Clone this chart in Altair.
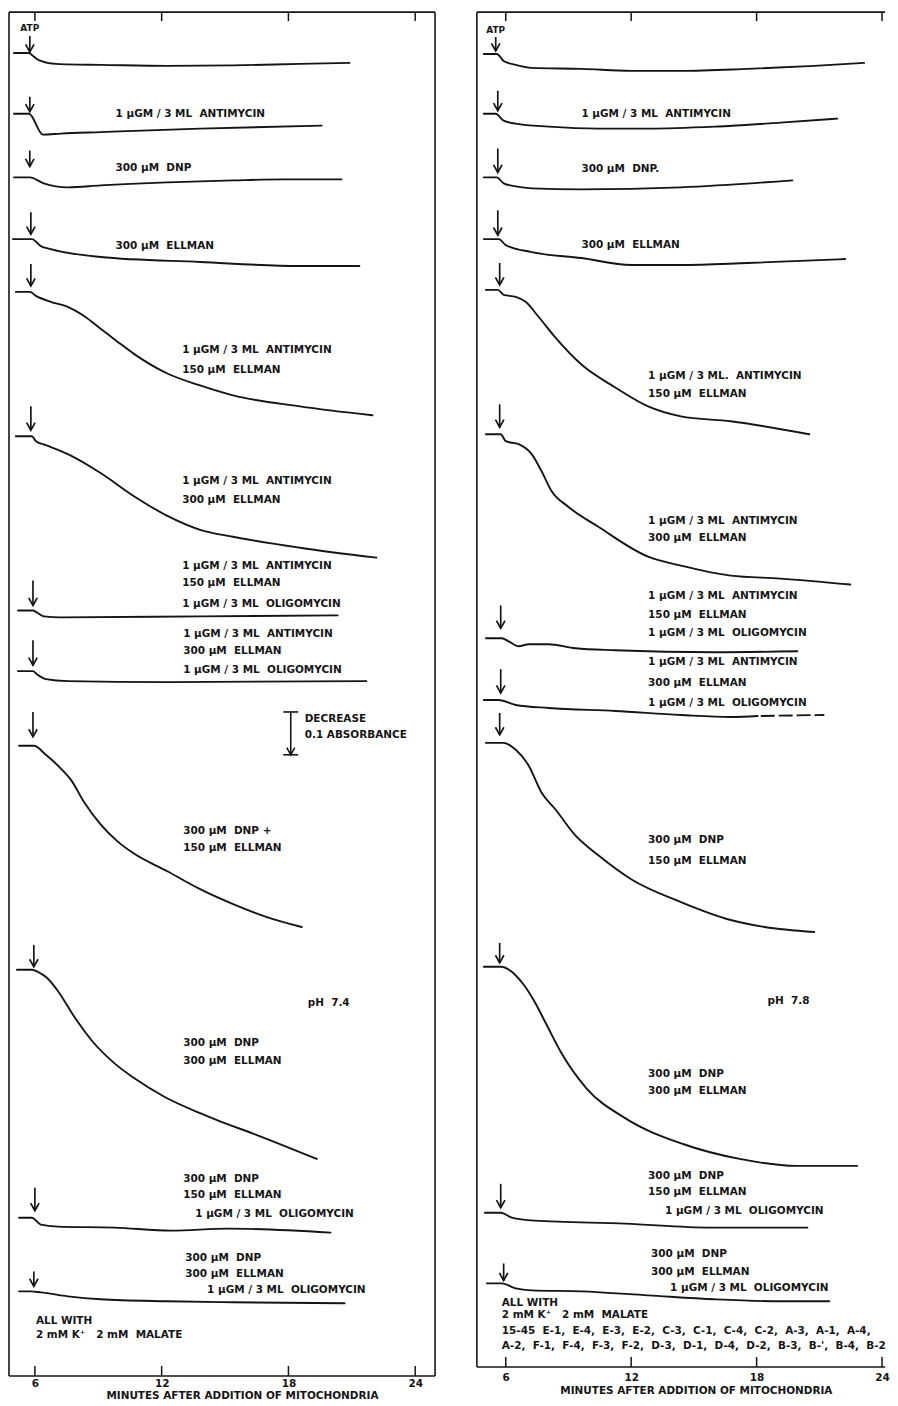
import altair as alt
import pandas as pd

FONT = "DejaVu Sans"
INK = "#151515"

TICKS = [6, 12, 18, 24]
X_TITLE = "MINUTES AFTER ADDITION OF MITOCHONDRIA"

# ---------------- Left panel (pH 7.4): minutes vs recorder deflection (downward) ----
L_XDOM = [4.775, 24.94]
L_YDOM = [7, 1377]

L1_min = [5.01, 5.72, 5.86, 6.09, 6.42, 6.99, 7.56, 9.11, 12.27, 15.38, 18.54, 20.89]
L1_val = [48, 48, 50, 54, 57, 59, 59.5, 60, 61, 60.5, 59, 58]
L2_min = [5.01, 5.72, 6.38, 7.23, 9.11, 13.82, 19.57]
L2_val = [109, 109, 130, 129, 127.5, 124, 121]
L3_min = [5.01, 5.76, 6.42, 7.56, 9.11, 12.27, 15.38, 17.73, 20.51]
L3_val = [173, 173, 179, 183, 181, 178, 176, 175, 175]
L4_min = [4.96, 5.86, 6.28, 6.75, 9.11, 13.82, 18.54, 21.36]
L4_val = [235, 235, 242, 245, 253, 258, 262, 262]
L5_min = [5.10, 5.76, 6.05, 6.75, 7.56, 8.31, 9.11, 9.91, 10.67, 12.27, 13.82, 15.38, 18.54, 21.98]
L5_val = [288, 288, 292, 298, 303, 312, 325, 338, 350, 370, 382, 392, 403, 412]
L6_min = [5.10, 5.86, 6.05, 6.52, 7.56, 9.11, 10.67, 12.27, 13.82, 15.38, 18.54, 22.16]
L6_val = [433, 433, 438, 442, 451, 470, 493, 513, 527, 534, 545, 555]
L7_min = [5.20, 5.91, 6.09, 6.42, 7.23, 13.82, 20.33]
L7_val = [608, 608, 610, 614, 615, 614, 613]
L8_min = [5.20, 5.91, 6.09, 6.52, 7.56, 12.27, 21.69]
L8_val = [669, 669, 672, 677, 679, 680, 679]
L9_min = [5.25, 5.95, 6.52, 7.37, 7.70, 8.31, 9.11, 9.91, 10.67, 12.27, 13.82, 15.38, 16.98, 18.63]
L9_val = [744, 744, 753, 770, 778, 800, 823, 840, 852, 870, 888, 903, 916, 926]
L10_min = [5.15, 5.86, 6.14, 6.57, 7.08, 7.89, 8.69, 9.77, 10.71, 12.17, 13.82, 14.62, 16.51, 19.34]
L10_val = [969, 969, 971, 977, 990, 1017, 1040, 1063, 1078, 1097, 1113, 1120, 1135, 1159]
L11_min = [5.25, 5.86, 6.28, 7.08, 9.77, 12.46, 15.14, 19.99]
L11_val = [1218, 1218, 1225, 1227, 1228, 1231, 1229, 1233]
L12_min = [5.25, 5.81, 6.28, 7.56, 9.11, 12.27, 15.38, 20.66]
L12_val = [1292, 1292, 1293, 1297, 1300, 1302, 1303, 1304]

L_ARROW_MIN = [5.76, 5.76, 5.76, 5.81, 5.81, 5.81, 5.91, 5.91, 5.91, 5.95, 6.00, 5.95]
L_ARROW_TOP = [31, 92, 146, 208, 260, 403, 578, 638, 710, 944, 1188, 1272]
L_ARROW_TIP = [47, 107, 162, 230, 282, 427, 603, 663, 735, 966, 1211, 1287]

L_SCALEBAR_MIN = [18.11]
L_SCALEBAR_TOP = [710]
L_SCALEBAR_BOTTOM = [753]

L_TEXT = ["1 μGM / 3 ML  ANTIMYCIN", "300 μM  DNP", "300 μM  ELLMAN",
          "1 μGM / 3 ML  ANTIMYCIN", "150 μM  ELLMAN",
          "1 μGM / 3 ML  ANTIMYCIN", "300 μM  ELLMAN",
          "1 μGM / 3 ML  ANTIMYCIN", "150 μM  ELLMAN", "1 μGM / 3 ML  OLIGOMYCIN",
          "1 μGM / 3 ML  ANTIMYCIN", "300 μM  ELLMAN", "1 μGM / 3 ML  OLIGOMYCIN",
          "DECREASE", "0.1 ABSORBANCE",
          "300 μM  DNP +", "150 μM  ELLMAN",
          "300 μM  DNP", "300 μM  ELLMAN",
          "300 μM  DNP", "150 μM  ELLMAN", "1 μGM / 3 ML  OLIGOMYCIN",
          "300 μM  DNP", "300 μM  ELLMAN", "1 μGM / 3 ML  OLIGOMYCIN",
          "ALL WITH", "2 mM K⁺   2 mM  MALATE", "pH  7.4"]
L_TEXT_MIN = [9.82, 9.82, 9.82, 12.97, 12.97, 12.97, 12.97, 12.97, 12.97, 12.97,
              13.02, 13.02, 13.02, 18.77, 18.77, 13.02, 13.02, 13.02, 13.02,
              13.02, 13.02, 13.59, 13.12, 13.12, 14.15, 6.05, 6.05, 18.91]
L_TEXT_Y = [109, 164, 242, 346, 366, 478, 497, 563, 580, 602, 632, 649, 668,
            717, 733, 830, 847, 1043, 1061, 1179, 1195, 1214, 1259, 1275, 1291,
            1322, 1336, 1002]
L_ATP_MIN = [5.76]
L_ATP_Y = [23]

# ---------------- Right panel (pH 7.8) ----------------
R_XDOM = [4.619, 24.143]
R_YDOM = [6, 1367]

R1_min = [4.95, 5.57, 5.90, 6.48, 7.24, 9.62, 12.00, 14.38, 17.57, 20.76, 23.14]
R1_val = [48, 48, 55, 59, 62, 63, 65, 65, 63, 60, 57]
R2_min = [4.95, 5.52, 5.90, 6.48, 8.05, 10.43, 12.81, 16.00, 19.14, 21.86]
R2_val = [108, 108, 115, 118, 121, 123, 123, 121, 117, 113]
R3_min = [4.95, 5.57, 5.90, 6.48, 7.24, 9.62, 14.38, 19.71]
R3_val = [172, 172, 178, 181, 183, 184, 182, 175]
R4_min = [4.95, 5.67, 6.00, 7.24, 9.62, 12.00, 14.38, 17.57, 22.24]
R4_val = [234, 234, 240, 247, 253, 260, 260, 258, 254]
R5_min = [5.05, 5.62, 5.90, 6.48, 6.95, 7.57, 8.38, 9.62, 11.24, 12.81, 14.38, 16.76, 20.52]
R5_val = [285, 285, 290, 292, 297, 312, 333, 360, 383, 402, 412, 417, 430]
R6_min = [5.05, 5.76, 6.00, 6.62, 7.24, 7.71, 8.19, 9.00, 10.43, 12.81, 14.38, 16.76, 19.14, 22.48]
R6_val = [430, 430, 437, 440, 450, 467, 487, 503, 523, 553, 562, 572, 575, 581]
R7_min = [5.05, 5.81, 6.14, 6.62, 7.10, 8.05, 9.33, 11.24, 16.00, 19.95]
R7_val = [635, 635, 638, 643, 641, 641, 645, 647, 649, 648]
R8_min = [4.95, 5.67, 6.48, 8.05, 11.24, 14.38, 16.76, 18.05]
R8_val = [697, 697, 702, 705, 708, 712, 714, 713]
R8_dash_min = [18.20, 21.24]
R8_dash_val = [713, 712]
R9_min = [5.05, 5.90, 6.48, 7.10, 7.71, 8.38, 9.33, 10.43, 12.00, 14.38, 16.76, 18.38, 20.76]
R9_val = [740, 740, 747, 763, 790, 807, 833, 853, 877, 900, 918, 925, 930]
R10_min = [4.95, 5.76, 6.86, 7.38, 7.95, 8.62, 9.86, 11.71, 14.48, 17.19, 19.90, 22.81]
R10_val = [965, 965, 983, 1000, 1023, 1050, 1087, 1117, 1143, 1158, 1165, 1165]
R11_min = [5.00, 5.76, 6.29, 7.38, 11.71, 15.81, 20.43]
R11_val = [1212, 1212, 1217, 1220, 1223, 1227, 1227]
R12_min = [5.10, 5.81, 6.48, 7.24, 9.62, 12.81, 16.00, 19.14, 21.48]
R12_val = [1283, 1283, 1288, 1290, 1291, 1295, 1299, 1301, 1301]

R_ARROW_MIN = [5.52, 5.62, 5.62, 5.62, 5.71, 5.71, 5.76, 5.76, 5.71, 5.71, 5.76, 5.90]
R_ARROW_TOP = [31, 85, 143, 205, 258, 400, 602, 666, 710, 941, 1183, 1263]
R_ARROW_TIP = [45, 105, 167, 230, 280, 423, 625, 690, 732, 961, 1207, 1280]

R_TEXT = ["1 μGM / 3 ML  ANTIMYCIN", "300 μM  DNP.", "300 μM  ELLMAN",
          "1 μGM / 3 ML.  ANTIMYCIN", "150 μM  ELLMAN",
          "1 μGM / 3 ML  ANTIMYCIN", "300 μM  ELLMAN",
          "1 μGM / 3 ML  ANTIMYCIN", "150 μM  ELLMAN", "1 μGM / 3 ML  OLIGOMYCIN",
          "1 μGM / 3 ML  ANTIMYCIN", "300 μM  ELLMAN", "1 μGM / 3 ML  OLIGOMYCIN",
          "300 μM  DNP", "150 μM  ELLMAN",
          "300 μM  DNP", "300 μM  ELLMAN",
          "300 μM  DNP", "150 μM  ELLMAN", "1 μGM / 3 ML  OLIGOMYCIN",
          "300 μM  DNP", "300 μM  ELLMAN", "1 μGM / 3 ML  OLIGOMYCIN",
          "ALL WITH", "2 mM K⁺   2 mM  MALATE", "pH  7.8",
          "15-45  E-1,  E-4,  E-3,  E-2,  C-3,  C-1,  C-4,  C-2,  A-3,  A-1,  A-4,",
          "A-2,  F-1,  F-4,  F-3,  F-2,  D-3,  D-1,  D-4,  D-2,  B-3,  B-',  B-4,  B-2"]
R_TEXT_MIN = [9.62, 9.62, 9.62, 12.81, 12.81, 12.81, 12.81, 12.81, 12.81, 12.81,
              12.81, 12.81, 12.81, 12.81, 12.81, 12.81, 12.81, 12.81, 12.81, 13.62,
              12.95, 12.95, 13.86, 5.81, 5.81, 18.52, 5.81, 5.81]
R_TEXT_Y = [108, 164, 240, 372, 390, 517, 534, 593, 612, 630, 659, 680, 700,
            838, 859, 1073, 1090, 1175, 1191, 1210, 1253, 1272, 1288, 1303, 1315,
            999, 1331, 1346]
R_ATP_MIN = [5.52]
R_ATP_Y = [24]

CHEVRON = "M-1,-1.8L0,0L1,-1.8"
CAP = "M-1,0L1,0"
NBSP = "\u00a0"


def keep_spaces(texts):
    # SVG collapses runs of spaces; keep the wide lettering gaps of the original
    return [t.replace("  ", " " + NBSP) for t in texts]


def traces_df(prefix, mins, vals):
    rows = []
    for k, (xs, ys) in enumerate(zip(mins, vals)):
        for i, (a, b) in enumerate(zip(xs, ys)):
            rows.append({"trace": f"{prefix}{k + 1}", "order": i, "minute": a, "reading": b})
    return pd.DataFrame(rows)


def panel(tr, dash, arrows, texts, atp, xdom, ydom, width, height,
          label_pad, title_pad, title_x, right_border, scalebar=None):
    xs = alt.Scale(domain=xdom, nice=False, zero=False)
    ys = alt.Scale(domain=ydom, reverse=True, nice=False, zero=False)
    axis = alt.Axis(values=TICKS, ticks=False, domain=False, grid=False, format="d",
                    labelFont=FONT, labelFontSize=10.5, labelFontWeight="bold",
                    labelColor=INK, labelPadding=label_pad,
                    title=X_TITLE, titleFont=FONT, titleFontSize=10.5,
                    titleFontWeight="bold", titleColor=INK, titlePadding=title_pad,
                    titleX=title_x, titleAlign="center")
    X = alt.X("minute:Q", scale=xs, axis=axis)

    def Y(f):
        return alt.Y(f, scale=ys, axis=None)

    layers = []
    layers.append(alt.Chart(tr).mark_line(interpolate="monotone", strokeWidth=1.9,
                                          color=INK, strokeCap="round").encode(
        x=X, y=Y("reading:Q"), detail="trace:N", order="order:Q"))
    if dash is not None:
        layers.append(alt.Chart(dash).mark_line(strokeWidth=1.9, color=INK,
                                                strokeDash=[14, 4]).encode(
            x=X, y=Y("reading:Q"), order="order:Q"))
    layers.append(alt.Chart(arrows).mark_rule(strokeWidth=1.7, color=INK).encode(
        x=X, y=Y("top:Q"), y2="tip:Q"))
    layers.append(alt.Chart(arrows).mark_point(shape=CHEVRON, size=72, filled=False,
                                               strokeWidth=1.7, color=INK, opacity=1).encode(
        x=X, y=Y("tip:Q")))
    if scalebar is not None:
        layers.append(alt.Chart(scalebar).mark_rule(strokeWidth=1.6, color=INK).encode(
            x=X, y=Y("top:Q"), y2="tip:Q"))
        layers.append(alt.Chart(scalebar).mark_point(shape=CHEVRON, size=64, filled=False,
                                                     strokeWidth=1.6, color=INK, opacity=1).encode(
            x=X, y=Y("tip:Q")))
        caps = pd.concat([scalebar[["minute", "top"]].rename(columns={"top": "pos"}),
                          scalebar[["minute", "tip"]].rename(columns={"tip": "pos"})])
        layers.append(alt.Chart(caps).mark_point(shape=CAP, size=225, filled=False,
                                                 strokeWidth=1.6, color=INK, opacity=1).encode(
            x=X, y=Y("pos:Q")))
    layers.append(alt.Chart(texts).mark_text(align="left", baseline="middle", font=FONT,
                                             fontSize=10.5, fontWeight="bold", color=INK).encode(
        x=X, y=Y("reading:Q"), text="label:N"))
    layers.append(alt.Chart(atp).mark_text(align="center", baseline="middle", font=FONT,
                                           fontSize=9, fontWeight="bold", color=INK).encode(
        x=X, y=Y("reading:Q"), text="label:N"))
    # inner ticks on top and bottom edges
    tk = pd.DataFrame({"minute": TICKS})
    layers.append(alt.Chart(tk).mark_rule(strokeWidth=1.5, color=INK).encode(
        x=X, y=alt.value(0), y2=alt.value(9)))
    layers.append(alt.Chart(tk).mark_rule(strokeWidth=1.5, color=INK).encode(
        x=X, y=alt.value(height - 10), y2=alt.value(height)))
    # frame
    one = pd.DataFrame({"k": [0]})
    layers.append(alt.Chart(one).mark_rule(strokeWidth=1.6, color=INK).encode(
        x=alt.value(0), x2=alt.value(width), y=alt.value(0)))
    layers.append(alt.Chart(one).mark_rule(strokeWidth=1.6, color=INK).encode(
        x=alt.value(0), x2=alt.value(width), y=alt.value(height)))
    layers.append(alt.Chart(one).mark_rule(strokeWidth=1.6, color=INK).encode(
        x=alt.value(0), y=alt.value(0), y2=alt.value(height)))
    if right_border:
        layers.append(alt.Chart(one).mark_rule(strokeWidth=1.6, color=INK).encode(
            x=alt.value(width), y=alt.value(0), y2=alt.value(height)))
    return alt.layer(*layers).properties(width=width, height=height)


L_tr = traces_df("L", [L1_min, L2_min, L3_min, L4_min, L5_min, L6_min, L7_min, L8_min,
                       L9_min, L10_min, L11_min, L12_min],
                 [L1_val, L2_val, L3_val, L4_val, L5_val, L6_val, L7_val, L8_val,
                  L9_val, L10_val, L11_val, L12_val])
R_tr = traces_df("R", [R1_min, R2_min, R3_min, R4_min, R5_min, R6_min, R7_min, R8_min,
                       R9_min, R10_min, R11_min, R12_min],
                 [R1_val, R2_val, R3_val, R4_val, R5_val, R6_val, R7_val, R8_val,
                  R9_val, R10_val, R11_val, R12_val])
R_dash = pd.DataFrame({"minute": R8_dash_min, "reading": R8_dash_val,
                       "order": list(range(len(R8_dash_min)))})

L_arrows = pd.DataFrame({"minute": L_ARROW_MIN, "top": L_ARROW_TOP, "tip": L_ARROW_TIP})
R_arrows = pd.DataFrame({"minute": R_ARROW_MIN, "top": R_ARROW_TOP, "tip": R_ARROW_TIP})
L_bar = pd.DataFrame({"minute": L_SCALEBAR_MIN, "top": L_SCALEBAR_TOP, "tip": L_SCALEBAR_BOTTOM})

L_txt = pd.DataFrame({"label": keep_spaces(L_TEXT), "minute": L_TEXT_MIN, "reading": L_TEXT_Y})
R_txt = pd.DataFrame({"label": keep_spaces(R_TEXT), "minute": R_TEXT_MIN, "reading": R_TEXT_Y})
L_atp = pd.DataFrame({"label": ["ATP"], "minute": L_ATP_MIN, "reading": L_ATP_Y})
R_atp = pd.DataFrame({"label": ["ATP"], "minute": R_ATP_MIN, "reading": R_ATP_Y})

left = panel(L_tr, None, L_arrows, L_txt, L_atp, L_XDOM, L_YDOM, 428, 1370,
             label_pad=3, title_pad=1, title_x=234, right_border=True, scalebar=L_bar)
right = panel(R_tr, R_dash, R_arrows, R_txt, R_atp, R_XDOM, R_YDOM, 410, 1361,
              label_pad=6, title_pad=2, title_x=220, right_border=False)

chart = alt.hconcat(left, right, spacing=42, bounds="flush").properties(
    padding=0).configure_view(stroke=None)

chart.save("out.html", embed_options={"renderer": "svg", "actions": False})
